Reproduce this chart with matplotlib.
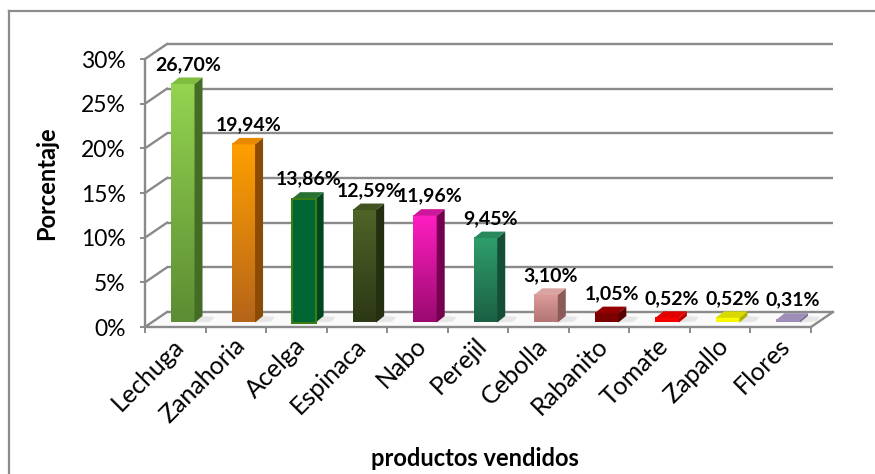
import numpy as np
import matplotlib
matplotlib.use('Agg')
import matplotlib.pyplot as plt
from matplotlib.patches import Polygon
from matplotlib.colors import LinearSegmentedColormap
from matplotlib.lines import Line2D

# ---------------- data ----------------
categories = ['Lechuga', 'Zanahoria', 'Acelga', 'Espinaca', 'Nabo', 'Perejil',
              'Cebolla', 'Rabanito', 'Tomate', 'Zapallo', 'Flores']
values = [26.70, 19.94, 13.86, 12.59, 11.96, 9.45, 3.10, 1.05, 0.52, 0.52, 0.31]
value_labels = ['26,70%', '19,94%', '13,86%', '12,59%', '11,96%', '9,45%',
                '3,10%', '1,05%', '0,52%', '0,52%', '0,31%']
y_ticks = [0, 5, 10, 15, 20, 25, 30]
y_tick_labels = ['0%', '5%', '10%', '15%', '20%', '25%', '30%']
x_title = 'productos vendidos'
y_title = 'Porcentaje'

# ---------------- styles ----------------
front_top = ['#93d450', '#ffa000', '#006633', '#506428', '#ff1ec2', '#2f9e6d',
             '#dc9c9a', '#800000', '#ff0000', '#ffff00', '#ab9bc4']
front_bot = ['#5c8c33', '#b5641a', '#006633', '#2c3816', '#9a0a6e', '#1b6043',
             '#b27573', '#7a0000', '#f00000', '#f5f500', '#9484b0']
side_cols = ['#446c25', '#8a4c05', '#00471f', '#242e10', '#74004f', '#154e36',
             '#8c5a58', '#5a0000', '#c00000', '#b0b000', '#7c6d95']
top_cols = ['#7fbd3f', '#e68900', '#2a7030', '#425322', '#cc179b', '#288a5c',
            '#d8a5a3', '#940000', '#e00000', '#d9d900', '#9d8db7']
edge_cols = [None, None, '#3a7d16', None, None, None, None, None, None, None, None]

GRID = '#8a8a8a'
FONT = 'Lato'

W, H = 875, 474
fig = plt.figure(figsize=(W / 100, H / 100), dpi=100)
fig.patch.set_facecolor('white')

# front plane of the 3D box (pixel layout)
L, R, B, T = 145, 811, 327, 59
ax = fig.add_axes([L / W, (H - B) / H, (R - L) / W, (B - T) / H])
n = len(categories)
ax.set_xlim(-0.5, n - 0.5)
ax.set_ylim(0, 30)
ax.patch.set_alpha(0)
ppx = (R - L) / n
ppy = (B - T) / 30.0


def ox(px):
    return px / ppx


def oy(py):
    return py / ppy


wx, wy = ox(22), oy(15)      # depth of the box
bdx, bdy = ox(7.5), oy(4.5)  # bar position inside depth
ddx, ddy = ox(8), oy(6.5)    # bar depth
bw = ox(23.5)

# floor
floor = Polygon([(-0.5, 0), (n - 0.5, 0), (n - 0.5 + wx, wy), (-0.5 + wx, wy)],
                closed=True, facecolor='#fafafa', edgecolor='none', zorder=1,
                clip_on=False)
ax.add_patch(floor)

# back wall gridlines + diagonals
for t in y_ticks:
    ax.plot([-0.5 + wx, n - 0.5 + wx], [t + wy, t + wy], color=GRID, lw=1.7,
            clip_on=False, zorder=1.5, solid_capstyle='butt')
    ax.plot([-0.5, -0.5 + wx], [t, t + wy], color=GRID, lw=1.7,
            clip_on=False, zorder=1.5)
ax.plot([n - 0.5, n - 0.5 + wx], [0, wy], color=GRID, lw=1.7, clip_on=False, zorder=1.5)

# soft shadows on floor
for i, v in enumerate(values):
    xc = i + bdx
    x1 = xc + bw / 2
    sh = Polygon([(x1, bdy), (x1 + ox(16), bdy + oy(1)), (x1 + ox(20), bdy + ddy - oy(1)),
                  (x1 + ddx, bdy + ddy)], closed=True, facecolor='#d9d9d9',
                 edgecolor='none', alpha=0.6, zorder=1.8, clip_on=False)
    ax.add_patch(sh)

# bars
for i, v in enumerate(values):
    xc = i + bdx
    x0, x1 = xc - bw / 2, xc + bw / 2
    y0, y1 = bdy, bdy + v
    cmap = LinearSegmentedColormap.from_list('g%d' % i, [front_bot[i], front_top[i]])
    grad = np.linspace(0, 1, 256).reshape(-1, 1)
    ax.imshow(grad, extent=(x0, x1, y0, y1), origin='lower', cmap=cmap,
              aspect='auto', zorder=3, interpolation='bilinear', clip_on=False)
    if edge_cols[i]:
        ax.add_patch(Polygon([(x0, y0), (x1, y0), (x1, y1), (x0, y1)], closed=True,
                             facecolor='none', edgecolor=edge_cols[i], lw=1.5,
                             zorder=3.2, clip_on=False))
    side = Polygon([(x1, y0), (x1, y1), (x1 + ddx, y1 + ddy), (x1 + ddx, y0 + ddy)],
                   closed=True, facecolor=side_cols[i], edgecolor='none', zorder=3,
                   clip_on=False)
    top = Polygon([(x0, y1), (x1, y1), (x1 + ddx, y1 + ddy), (x0 + ddx, y1 + ddy)],
                  closed=True, facecolor=top_cols[i], edgecolor='none', zorder=3,
                  clip_on=False)
    ax.add_patch(side)
    ax.add_patch(top)
    ax.text(xc + ox(5), y1 + oy(14), value_labels[i], ha='center', va='baseline',
            fontsize=14, fontweight='bold', family=FONT, color='black',
            zorder=5, clip_on=False)

# spines / ticks
for s in ['top', 'right']:
    ax.spines[s].set_visible(False)
for s in ['left', 'bottom']:
    ax.spines[s].set_color(GRID)
    ax.spines[s].set_linewidth(1.7)
    ax.spines[s].set_zorder(2)
ax.set_yticks(y_ticks)
ax.set_yticklabels(y_tick_labels, fontsize=16.5, family=FONT)
ax.tick_params(axis='y', direction='out', length=3.5, width=1.4, color=GRID, pad=10.5)
ax.set_xticks(np.arange(n))
ax.set_xticklabels([])
ax.tick_params(axis='x', which='major', length=0)
ax.set_xticks(np.arange(-0.5, n), minor=True)
ax.tick_params(axis='x', which='minor', direction='out', length=4, width=1.4, color=GRID)

for i, c in enumerate(categories):
    ax.text(i + ox(5), -oy(15), c, rotation=45, ha='right', va='center',
            rotation_mode='anchor', fontsize=18, family=FONT, clip_on=False)

fig.text(475 / W, 1 - 458 / H, x_title, ha='center', va='center', fontsize=17,
         fontweight='bold', family=FONT)
fig.text(47 / W, 1 - 183 / H, y_title, ha='center', va='center', rotation=90,
         fontsize=17, fontweight='bold', family=FONT)

# outer border of chart area
fig.add_artist(Line2D([9 / W, 9 / W], [0, 1 - 11 / H], transform=fig.transFigure,
                      color='#8c8c8c', lw=1.6))
fig.add_artist(Line2D([9 / W, 1], [1 - 11 / H, 1 - 11 / H], transform=fig.transFigure,
                      color='#8c8c8c', lw=1.6))

fig.savefig('out.png', dpi=100, facecolor='white')
